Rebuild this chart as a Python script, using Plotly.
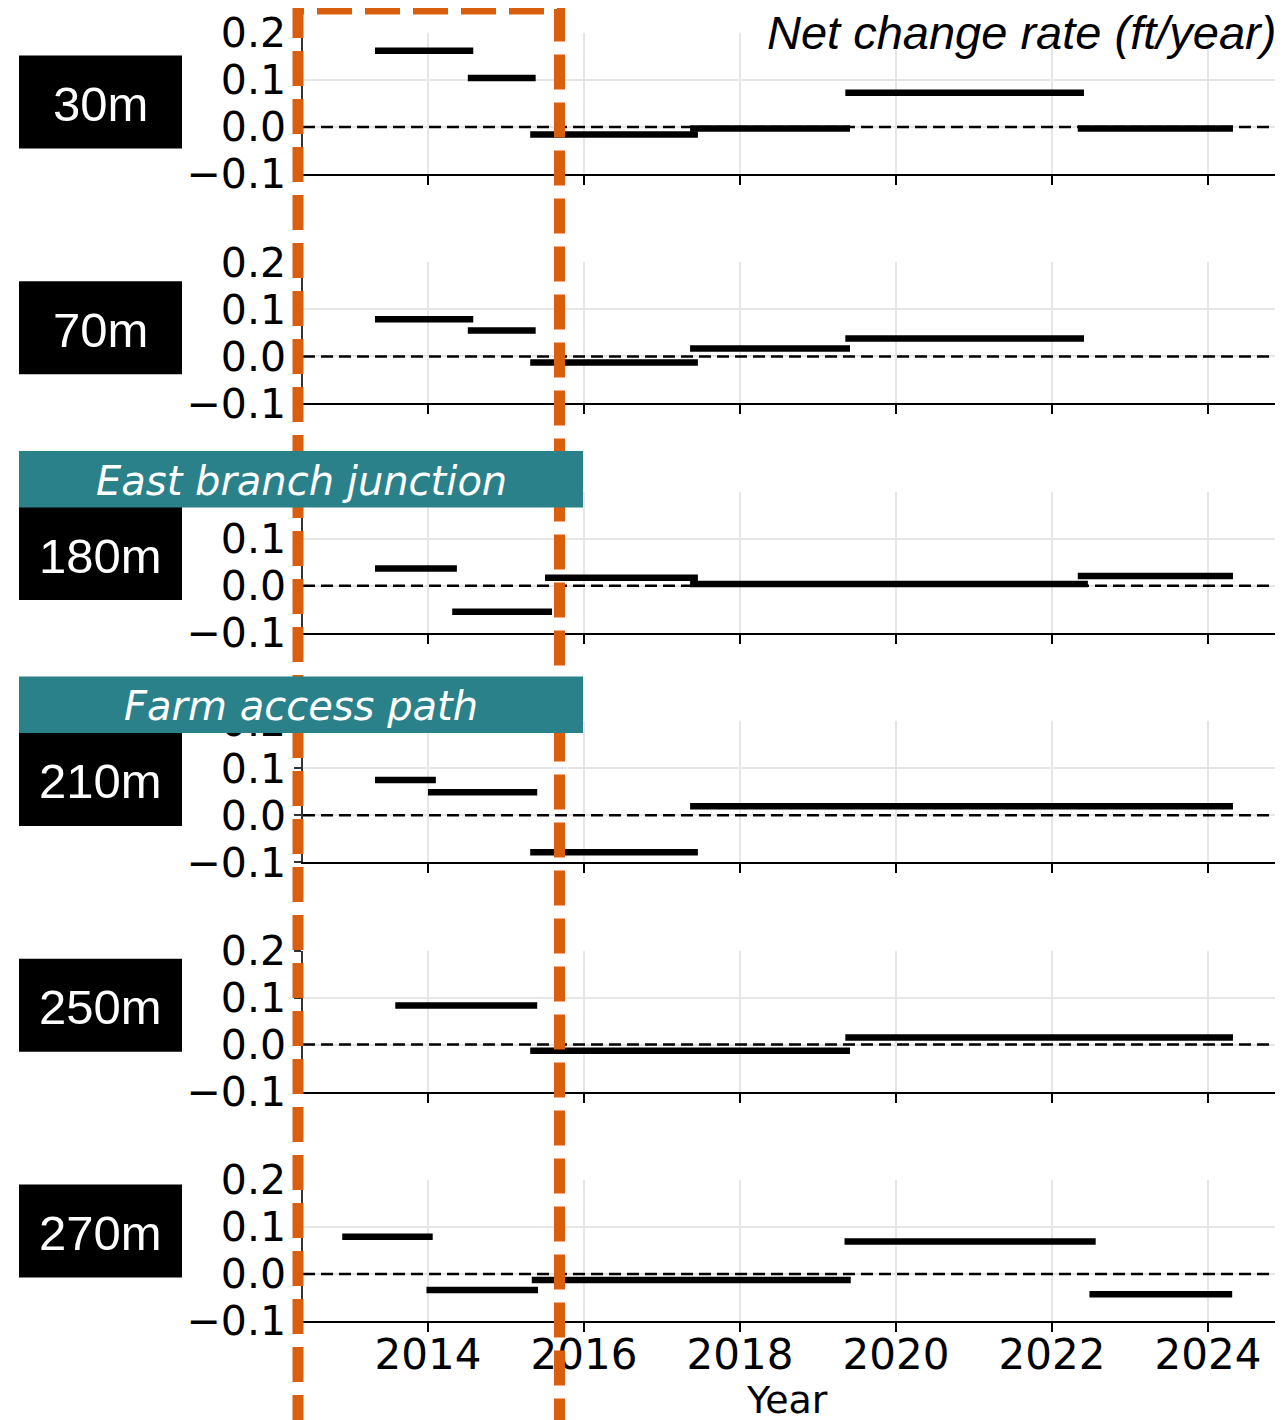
import plotly.graph_objects as go

# ---------------- data ----------------
labels = ["30m", "70m", "180m", "210m", "250m", "270m"]

starts_30m = [2013.32, 2014.51, 2015.31, 2017.36, 2019.35, 2022.33]
ends_30m = [2014.58, 2015.38, 2017.46, 2019.41, 2022.41, 2024.32]
rates_30m = [0.162, 0.104, -0.016, -0.003, 0.073, -0.003]

starts_70m = [2013.32, 2014.51, 2015.31, 2017.36, 2019.35]
ends_70m = [2014.58, 2015.38, 2017.46, 2019.41, 2022.41]
rates_70m = [0.079, 0.055, -0.013, 0.017, 0.038]

starts_180m = [2013.32, 2014.31, 2015.50, 2017.36, 2022.33]
ends_180m = [2014.37, 2015.59, 2017.46, 2022.46, 2024.32]
rates_180m = [0.037, -0.055, 0.017, 0.004, 0.021]

starts_210m = [2013.32, 2014.00, 2015.31, 2017.36]
ends_210m = [2014.10, 2015.40, 2017.46, 2024.32]
rates_210m = [0.075, 0.049, -0.079, 0.019]

starts_250m = [2013.58, 2015.31, 2019.35]
ends_250m = [2015.40, 2019.41, 2024.32]
rates_250m = [0.083, -0.013, 0.015]

starts_270m = [2012.90, 2013.98, 2015.33, 2019.34, 2022.48]
ends_270m = [2014.06, 2015.41, 2019.42, 2022.56, 2024.31]
rates_270m = [0.079, -0.034, -0.013, 0.069, -0.043]

panels = [
    (starts_30m, ends_30m, rates_30m),
    (starts_70m, ends_70m, rates_70m),
    (starts_180m, ends_180m, rates_180m),
    (starts_210m, ends_210m, rates_210m),
    (starts_250m, ends_250m, rates_250m),
    (starts_270m, ends_270m, rates_270m),
]

group_labels = ["East branch junction", "Farm access path"]

x_tickvals = [2014, 2016, 2018, 2020, 2022, 2024]
y_tickvals = [-0.1, 0.0, 0.1, 0.2]
y_ticktext = ["\u22120.1", "0.0", "0.1", "0.2"]
x_range = [2012.397, 2024.859]
y_range = [-0.1, 0.2]
title_text = "Net change rate (ft/year)"
x_title = "Year"

# ---------------- layout helpers ----------------
W, H = 1288, 1420
OFF = 8  # page body offset of the figure in the screenshot
# screen-pixel plot area: x 303..1275, y 33..1321
ML = 303 - OFF
MT = 33 - OFF
MR = W - (1275 - OFF)
MB = H - (1321 - OFF)
PW = W - ML - MR
PH = H - MT - MB


def px_x(x):
    """screen pixel x -> paper"""
    return (x - OFF - ML) / PW


def px_y(y):
    """screen pixel y -> paper"""
    return (H - MB - (y - OFF)) / PH


ORANGE = "#d95f0e"
TEAL = "#2b8189"
GRID = "#e6e6e6"

fig = go.Figure()
layout = dict(
    width=W, height=H,
    margin=dict(l=ML, r=MR, t=MT, b=MB, autoexpand=False),
    paper_bgcolor="white", plot_bgcolor="white",
    showlegend=False,
    font=dict(family="DejaVu Sans", color="black"),
)

shapes = []
annotations = []
n = len(panels)
for k, (s, e, r) in enumerate(panels):
    xa = "x" if k == 0 else f"x{k+1}"
    ya = "y" if k == 0 else f"y{k+1}"
    top = 33 + 229.4 * k
    bot = top + 141
    # dashed zero reference line (under the segments)
    fig.add_trace(go.Scatter(x=x_range, y=[0, 0], mode="lines", xaxis=xa, yaxis=ya,
                             line=dict(color="black", width=2.5, dash="12px,6px"),
                             hoverinfo="skip"))
    xs, ys = [], []
    for a, b, v in zip(s, e, r):
        xs += [a, b, None]
        ys += [v, v, None]
    fig.add_trace(go.Scatter(x=xs, y=ys, mode="lines", xaxis=xa, yaxis=ya,
                             line=dict(color="black", width=6.5),
                             hoverinfo="skip"))
    xkey = "xaxis" if k == 0 else f"xaxis{k+1}"
    ykey = "yaxis" if k == 0 else f"yaxis{k+1}"
    layout[xkey] = dict(
        domain=[0, 1], anchor=ya, range=x_range, automargin=False,
        tickmode="array", tickvals=x_tickvals,
        showticklabels=(k == n - 1), ticklabelstandoff=-13,
        ticks="outside", ticklen=9, tickwidth=1.5, tickcolor="black",
        showline=True, linecolor="black", linewidth=2,
        showgrid=True, gridcolor=GRID, gridwidth=1.5, zeroline=False,
        tickfont=dict(family="DejaVu Sans", size=42, color="black"),
    )
    if k > 0:
        layout[xkey]["matches"] = "x"
    layout[ykey] = dict(
        domain=[px_y(bot), px_y(top)], anchor=xa, range=y_range, automargin=False,
        tickmode="array", tickvals=y_tickvals, ticktext=y_ticktext,
        ticks="outside", ticklen=7, tickwidth=1.5, tickcolor="#333",
        showline=True, linecolor="#333", linewidth=1.5,
        showgrid=True, gridcolor=GRID, gridwidth=1.5, zeroline=False,
        tickfont=dict(family="DejaVu Sans", size=41, color="black"),
    )

# orange dashed rectangle
shapes.append(dict(type="rect", xref="paper", yref="paper",
                   x0=px_x(298), x1=px_x(559.5), y0=px_y(1460), y1=px_y(9),
                   line=dict(color=ORANGE, width=11, dash="35px,13px"),
                   fillcolor="rgba(0,0,0,0)", layer="above"))

# black location labels
for k, lab in enumerate(labels):
    cy = 102 + 225.8 * k
    shapes.append(dict(type="rect", xref="paper", yref="paper",
                       x0=px_x(19), x1=px_x(182), y0=px_y(cy + 46.5), y1=px_y(cy - 46.5),
                       fillcolor="black", line=dict(width=0), layer="above"))
    annotations.append(dict(xref="paper", yref="paper", x=px_x(100.5), y=px_y(cy + 2),
                            text=lab, showarrow=False, xanchor="center", yanchor="middle",
                            font=dict(family="Liberation Sans", size=49, color="white")))

# teal group labels
for j, g in enumerate(group_labels):
    ytop = 451 + 225.5 * j
    ybot = ytop + 56.5
    shapes.append(dict(type="rect", xref="paper", yref="paper",
                       x0=px_x(19), x1=px_x(583), y0=px_y(ybot), y1=px_y(ytop),
                       fillcolor=TEAL, line=dict(width=0), layer="above"))
    annotations.append(dict(xref="paper", yref="paper", x=px_x(301), y=px_y(ytop + 29.5),
                            text=f"<i>{g}</i>", showarrow=False, xanchor="center", yanchor="middle",
                            font=dict(family="DejaVu Sans", size=40, color="white")))

# title
annotations.append(dict(xref="paper", yref="paper", x=px_x(1278), y=px_y(32),
                        text=f"<i>{title_text}</i>", showarrow=False,
                        xanchor="right", yanchor="middle",
                        font=dict(family="Liberation Sans", size=47, color="black")))
# x axis title
annotations.append(dict(xref="paper", yref="paper", x=px_x(787), y=px_y(1400),
                        text=x_title, showarrow=False, xanchor="center", yanchor="middle",
                        font=dict(family="DejaVu Sans", size=38, color="black")))

layout["shapes"] = shapes
layout["annotations"] = annotations
fig.update_layout(**layout)
fig.write_html("out.html")
